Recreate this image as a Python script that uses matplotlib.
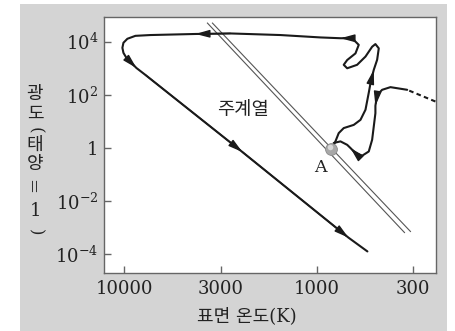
import matplotlib
matplotlib.use("Agg")
import matplotlib.pyplot as plt
from matplotlib.patches import Rectangle
import numpy as np

# ---------------- data (x in tick-position units, y = log10 luminosity) ----------------
x_tick_labels = ["10000", "3000", "1000", "300"]
x_tick_pos = [0, 1, 2, 3]
y_tick_exps = [4, 2, 0, -2, -4]
y_tick_labels = [r"$10^{4}$", r"$10^{2}$", "1", r"$10^{-2}$", r"$10^{-4}$"]

# evolution track from point A (post-main-sequence)
track1_x = [2.150, 2.191, 2.225, 2.277, 2.381, 2.451, 2.503, 2.537, 2.555, 2.589,
            2.624, 2.641, 2.606, 2.572, 2.503, 2.416, 2.313, 2.277, 2.313, 2.399,
            2.433, 2.364, 2.243, 2.035, 1.620, 1.101, 0.737, 0.270, 0.114, 0.031,
            -0.010, -0.021, -0.010, 0.021, 0.062, 0.125, 0.218, 1.225, 2.326, 2.523]
track1_logL = [-0.06, 0.25, 0.56, 0.75, 0.87, 1.06, 1.44, 2.08, 2.44, 2.94,
               3.32, 3.75, 3.91, 3.81, 3.44, 3.13, 3.00, 3.13, 3.31, 3.56,
               3.88, 4.13, 4.13, 4.16, 4.25, 4.31, 4.29, 4.25, 4.22, 4.11,
               3.96, 3.77, 3.58, 3.39, 3.24, 3.01, 2.75, -0.15, -3.37, -3.89]
track1_arrows = [9, 22, 26, 35, 37, 38]

# pre-main-sequence track arriving at A
track2_x = [2.936, 2.762, 2.676, 2.624, 2.606, 2.606, 2.589, 2.572, 2.537, 2.468,
            2.399, 2.347, 2.313, 2.243, 2.173]
track2_logL = [2.19, 2.29, 2.19, 2.00, 1.59, 1.31, 0.81, 0.31, -0.13, -0.29,
               -0.19, 0.00, 0.12, 0.25, 0.19]
track2_arrows = [4, 11]
dashed_x = [3.229, 2.936]
dashed_logL = [1.75, 2.19]

# main sequence band (two parallel lines)
ms1_x = [0.862, 2.908]
ms1_logL = [4.70, -3.18]
ms2_x = [0.914, 2.970]
ms2_logL = [4.70, -3.14]

pointA_x, pointA_logL = 2.150, -0.02

# ---------------- figure ----------------
W, H = 455, 331
plt.rcParams["mathtext.fontset"] = "dejavuserif"
fig = plt.figure(figsize=(W / 100, H / 100), dpi=100, facecolor="white")
fig.patches.append(Rectangle((20 / W, 0), (447 - 20) / W, (H - 4) / H,
                             transform=fig.transFigure, facecolor="#d4d4d4",
                             edgecolor="none", zorder=-10))
ax = fig.add_axes([103.7 / W, (H - 272.7) / H, (435.7 - 103.7) / W, (272.7 - 16.7) / H])
ax.set_zorder(1)
ax.set_facecolor("white")

ax.set_yscale("log")
ax.set_xlim(-0.215, 3.232)
ax.set_ylim(10 ** -4.69, 10 ** 4.94)

line_c = "#1a1a1a"
L1 = 10 ** np.array(track1_logL)
L2 = 10 ** np.array(track2_logL)
ax.plot(track1_x, L1, color=line_c, lw=1.5, solid_joinstyle="round", solid_capstyle="round", zorder=3)
ax.plot(track2_x, L2, color=line_c, lw=1.5, solid_joinstyle="round", solid_capstyle="round", zorder=3)
ax.plot(dashed_x, 10 ** np.array(dashed_logL), color=line_c, lw=1.5, ls=(0, (2.2, 1.6)), zorder=3)

ax.plot(ms1_x, 10 ** np.array(ms1_logL), color="#555555", lw=0.8, zorder=2)
ax.plot(ms2_x, 10 ** np.array(ms2_logL), color="#555555", lw=0.8, zorder=2)

def add_arrows(xs, ls, idxs):
    for i in idxs:
        ax.annotate("", xy=(xs[i], 10 ** ls[i]), xytext=(xs[i - 1], 10 ** ls[i - 1]),
                    arrowprops=dict(arrowstyle="-|>,head_length=1.0,head_width=0.27",
                                    color=line_c, lw=1.0, shrinkA=0, shrinkB=0,
                                    mutation_scale=8.5), zorder=4)

add_arrows(track1_x, track1_logL, track1_arrows)
add_arrows(track2_x, track2_logL, track2_arrows)

# point A
ax.plot([pointA_x], [10 ** pointA_logL], marker="o", ms=8.5, mfc="#a8a8a8", mec="#8a8a8a",
        mew=0.6, zorder=5)
ax.plot([pointA_x - 0.012], [10 ** (pointA_logL + 0.06)], marker="o", ms=4, mfc="#d8d8d8",
        mec="none", zorder=6)
ax.text(2.035, 10 ** -0.74, "A", family="DejaVu Serif", fontsize=12.5, color="#222222",
        ha="center", va="center", zorder=6)

ax.text(1.23, 10 ** 1.44, "주계열", family=["Noto Sans CJK KR", "DejaVu Sans"], fontsize=13.5,
        color="#222222", ha="center", va="center")

# axes styling
for s in ax.spines.values():
    s.set_color("#666666")
    s.set_linewidth(1.0)
ax.set_xticks(x_tick_pos)
ax.set_xticklabels(x_tick_labels)
ax.set_yticks([10.0 ** e for e in y_tick_exps])
ax.set_yticklabels(y_tick_labels)
ax.minorticks_off()
ax.tick_params(axis="both", direction="in", length=5, width=1, color="#666666",
               labelcolor="#222222", labelsize=13)
ax.tick_params(axis="x", pad=5)
ax.tick_params(axis="y", pad=4)
for lab in ax.get_xticklabels() + ax.get_yticklabels():
    lab.set_family("DejaVu Serif")

# x label
fig.text(247 / W, 1 - 316 / H, "표면 온도(K)", family=["DejaVu Serif", "Noto Sans CJK KR"],
         fontsize=13, color="#222222", ha="center", va="center")

# y label, stacked vertically
kfam = ["Noto Sans CJK KR", "DejaVu Sans"]
ylab = [("광", 94.5, 0, kfam, 13), ("도", 113.5, 0, kfam, 13), ("(", 130, 270, "DejaVu Serif", 12),
        ("태", 145, 0, kfam, 13), ("양", 163.5, 0, kfam, 13), ("=", 185, 90, "DejaVu Serif", 13),
        ("1", 211.5, 0, "DejaVu Serif", 13), (")", 232, 270, "DejaVu Serif", 12)]
for ch, yp, rot, fam, fs in ylab:
    fig.text(35 / W, 1 - yp / H, ch, family=fam, fontsize=fs, rotation=rot,
             rotation_mode="anchor", color="#222222", ha="center", va="center")

fig.savefig("out.png", dpi=100, facecolor="white")
